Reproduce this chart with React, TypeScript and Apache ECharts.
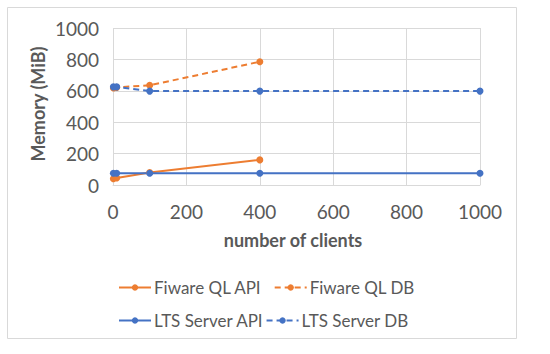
import React, { useEffect, useRef } from "react";
import * as echarts from "echarts";

const clientsFiware = [1, 10, 100, 400];
const clientsLts = [1, 10, 100, 400, 1000];
const fiwareApi = [40, 45, 80, 160];
const fiwareDb = [618, 622, 635, 785];
const ltsApi = [75, 75, 75, 75, 75];
const ltsDb = [625, 625, 598, 598, 598];
const seriesNames = ["Fiware QL API", "Fiware QL DB", "LTS Server API", "LTS Server DB"];

const ORANGE = "#ED7D31";
const BLUE = "#4472C4";
const FONT = "Lato";

function pairs(xs: number[], ys: number[]) {
  return xs.map((x, i) => [x, ys[i]]);
}

export default function App() {
  const ref = useRef<HTMLDivElement>(null);
  useEffect(() => {
    const chart = echarts.init(ref.current!, null, { renderer: "svg" });
    const mk = (name: string, data: number[][], color: string, dashed: boolean) => ({
      name,
      type: "line",
      data,
      symbol: "circle",
      symbolSize: 7,
      color,
      lineStyle: { color, width: 2, type: dashed ? [6, 4] : "solid" },
      itemStyle: { color },
    });
    const fmt = (v: number) => String(v);
    chart.setOption({
      animation: false,
      backgroundColor: "#ffffff",
      textStyle: { fontFamily: FONT },
      grid: { left: 113, right: 70, top: 28, bottom: 169 },
      xAxis: {
        type: "value",
        min: 0,
        max: 1000,
        interval: 200,
        axisLine: { lineStyle: { color: "#d9d9d9" } },
        axisTick: { show: false },
        axisLabel: { color: "#595959", fontSize: 19, margin: 17, fontFamily: FONT, formatter: fmt },
        splitLine: { show: true, lineStyle: { color: "#d9d9d9" } },
      },
      yAxis: {
        type: "value",
        min: 0,
        max: 1000,
        interval: 200,
        axisLine: { show: false },
        axisTick: { show: false },
        axisLabel: { color: "#595959", fontSize: 19, margin: 14, fontFamily: FONT, formatter: fmt },
        splitLine: { show: true, lineStyle: { color: "#d9d9d9" } },
      },
      legend: [
        {
          data: [seriesNames[0], seriesNames[1]],
          left: 113,
          top: 274,
          itemWidth: 32,
          itemHeight: 8,
          itemGap: 12,
          textStyle: { color: "#595959", fontSize: 17, fontFamily: FONT, padding: [0, 0, 0, -2] },
        },
        {
          data: [seriesNames[2], seriesNames[3]],
          left: 113,
          top: 307,
          itemWidth: 32,
          itemHeight: 8,
          itemGap: 2,
          textStyle: { color: "#595959", fontSize: 17, fontFamily: FONT, padding: [0, 0, 0, -2] },
        },
      ],
      graphic: [
        {
          type: "rect",
          shape: { x: 7.5, y: 7.5, width: 509, height: 331 },
          style: { fill: "none", stroke: "#d9d9d9", lineWidth: 1 },
          z: -1,
        },
        {
          type: "text",
          x: 38,
          y: 104,
          rotation: Math.PI / 2,
          style: {
            text: "Memory (MiB)",
            fill: "#595959",
            font: `bold 18px ${FONT}`,
            align: "center",
            verticalAlign: "middle",
          },
        },
        {
          type: "text",
          x: 293,
          y: 240,
          style: {
            text: "number of clients",
            fill: "#595959",
            font: `bold 18px ${FONT}`,
            align: "center",
            verticalAlign: "middle",
          },
        },
      ],
      series: [
        mk(seriesNames[0], pairs(clientsFiware, fiwareApi), ORANGE, false),
        mk(seriesNames[1], pairs(clientsFiware, fiwareDb), ORANGE, true),
        mk(seriesNames[2], pairs(clientsLts, ltsApi), BLUE, false),
        mk(seriesNames[3], pairs(clientsLts, ltsDb), BLUE, true),
      ],
    });
    return () => chart.dispose();
  }, []);
  return (
    <div
      ref={ref}
      style={{ position: "fixed", left: 0, top: 0, width: 550, height: 354 }}
    />
  );
}
